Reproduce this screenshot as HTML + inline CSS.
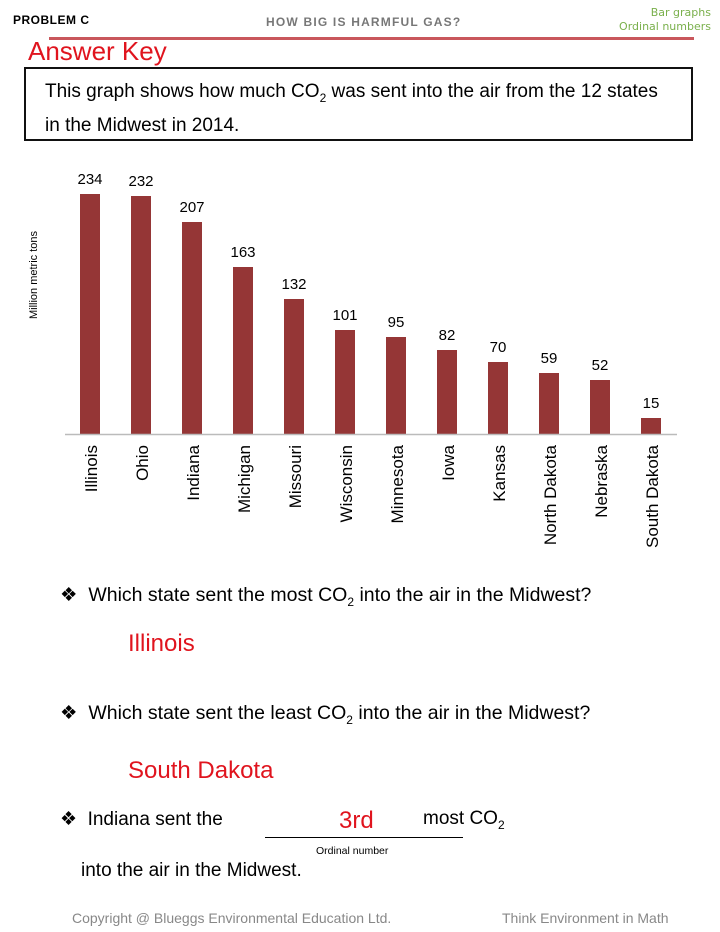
<!DOCTYPE html>
<html><head><meta charset="utf-8"><style>
body{margin:0;width:720px;height:932px;background:#fff;position:relative;font-family:"Liberation Sans",sans-serif;overflow:hidden}
.a{position:absolute;white-space:nowrap}
.c{font-family:"Liberation Sans",sans-serif}
.red{color:#e0141e}
</style></head><body>
<div class="a" style="left:13px;top:13px;font-size:12px;font-weight:bold;letter-spacing:0.5px">PROBLEM C</div>
<div class="a" style="left:266px;top:15px;font-size:12px;font-weight:bold;color:#777;letter-spacing:1.2px">HOW BIG IS HARMFUL GAS?</div>
<div class="a" style="right:9px;top:6px;font-size:11px;color:#7ab04c;text-align:right;line-height:14px;font-family:'DejaVu Sans',sans-serif">Bar graphs<br>Ordinal numbers</div>
<div class="a" style="left:49px;top:37px;width:645px;height:3px;background:#c9575c"></div>
<div class="a red c" style="left:28px;top:36px;font-size:26px">Answer Key</div>
<div class="a" style="left:24px;top:67px;width:665px;height:70px;border:2.5px solid #111"></div>
<div class="a c" style="left:45px;top:78px;font-size:19px;line-height:27px">This graph shows how much CO<sub style="font-size:12px">2</sub> was sent into the air from the 12 states<br>in the Midwest in 2014.</div>
<svg class="a" style="left:0;top:0" width="720" height="600">
<g fill="#953636">
<rect x="80" y="194" width="20" height="240"/><rect x="131" y="196" width="20" height="238"/><rect x="182" y="222" width="20" height="212"/><rect x="233" y="267" width="20" height="167"/><rect x="284" y="299" width="20" height="135"/><rect x="335" y="330" width="20" height="104"/><rect x="386" y="337" width="20" height="97"/><rect x="437" y="350" width="20" height="84"/><rect x="488" y="362" width="20" height="72"/><rect x="539" y="373" width="20" height="61"/><rect x="590" y="380" width="20" height="54"/><rect x="641" y="418" width="20" height="16"/>
</g>
<line x1="65" y1="434.5" x2="677" y2="434.5" stroke="#bbb" stroke-width="1.5"/>
<g font-family="Liberation Sans, sans-serif" font-size="15" text-anchor="middle" fill="#000">
<text x="90" y="184">234</text><text x="141" y="186">232</text><text x="192" y="212">207</text><text x="243" y="257">163</text><text x="294" y="289">132</text><text x="345" y="320">101</text><text x="396" y="327">95</text><text x="447" y="340">82</text><text x="498" y="352">70</text><text x="549" y="363">59</text><text x="600" y="370">52</text><text x="651" y="408">15</text>
</g>
<g font-family="Liberation Sans, sans-serif" font-size="17" text-anchor="end" fill="#000">
<text transform="translate(97,445) rotate(-90)">Illinois</text>
<text transform="translate(148,445) rotate(-90)">Ohio</text>
<text transform="translate(199,445) rotate(-90)">Indiana</text>
<text transform="translate(250,445) rotate(-90)">Michigan</text>
<text transform="translate(301,445) rotate(-90)">Missouri</text>
<text transform="translate(352,445) rotate(-90)">Wisconsin</text>
<text transform="translate(403,445) rotate(-90)">Minnesota</text>
<text transform="translate(454,445) rotate(-90)">Iowa</text>
<text transform="translate(505,445) rotate(-90)">Kansas</text>
<text transform="translate(556,445) rotate(-90)">North Dakota</text>
<text transform="translate(607,445) rotate(-90)">Nebraska</text>
<text transform="translate(658,445) rotate(-90)">South Dakota</text>
</g>
<text transform="translate(37,275) rotate(-90)" font-family="Liberation Sans, sans-serif" font-size="11" text-anchor="middle">Million metric tons</text>
</svg>
<div class="a c" style="left:60px;top:583px;font-size:19.5px">❖&nbsp; Which state sent the most CO<sub style="font-size:12px">2</sub> into the air in the Midwest?</div>
<div class="a red c" style="left:128px;top:630px;font-size:24px">Illinois</div>
<div class="a c" style="left:60px;top:701px;font-size:19.5px">❖&nbsp; Which state sent the least CO<sub style="font-size:12px">2</sub> into the air in the Midwest?</div>
<div class="a red c" style="left:128px;top:757px;font-size:24px">South Dakota</div>
<div class="a c" style="left:60px;top:808px;font-size:19px">❖&nbsp; Indiana sent the</div>
<div class="a red c" style="left:339px;top:807px;font-size:24px">3rd</div>
<div class="a c" style="left:423px;top:808px;font-size:19px">most CO<sub style="font-size:12px">2</sub></div>
<div class="a" style="left:265px;top:837px;width:198px;height:1px;background:#000"></div>
<div class="a" style="left:316px;top:845px;font-size:10.5px">Ordinal number</div>
<div class="a c" style="left:81px;top:860px;font-size:19px">into the air in the Midwest.</div>
<div class="a c" style="left:72px;top:910px;font-size:14px;color:#888">Copyright @ Blueggs Environmental Education Ltd.</div>
<div class="a c" style="left:502px;top:910px;font-size:14px;color:#888">Think Environment in Math</div>
</body></html>
